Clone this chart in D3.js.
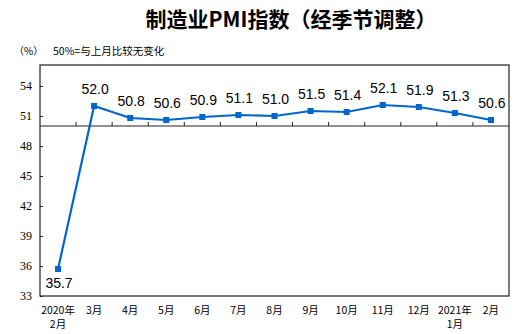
<!DOCTYPE html>
<html><head><meta charset="utf-8">
<script src="https://cdn.jsdelivr.net/npm/d3@7"></script>
<style>body{margin:0;background:#fff}svg{display:block}</style>
</head><body>
<svg id="c" width="519" height="334"></svg>
<script>
const categories = ["2020年\n2月","3月","4月","5月","6月","7月","8月","9月","10月","11月","12月","2021年\n1月","2月"];
const values = [35.7,52.0,50.8,50.6,50.9,51.1,51.0,51.5,51.4,52.1,51.9,51.3,50.6];
const yTicks = [33,36,39,42,45,48,51,54];
const title = "制造业PMI指数（经季节调整）";
const unitLabel = "（%）";
const noteLabel = "50%=与上月比较无变化";
const baseline = 50;

const svg = d3.select("#c");
const L = 40, R = 509, T = 66, B = 296;
const x = d3.scaleBand().domain(categories).range([L, R]);
const y = d3.scaleLinear().domain([33, 56]).range([B, T]);
const blue = "#0066cc";
const cjk = "'Noto Sans CJK SC', sans-serif";

svg.append("text").attr("x", 291).attr("y", 27).attr("text-anchor","middle")
  .attr("font-family", cjk).attr("font-weight","bold").attr("font-size",21).attr("fill","#000").text(title);
svg.append("text").attr("x", 14).attr("y", 55).attr("font-family", cjk).attr("font-size",10).attr("fill","#000").text(unitLabel);
svg.append("text").attr("x", 53).attr("y", 55).attr("font-family", cjk).attr("font-size",10.5).attr("fill","#000").text(noteLabel);

// frame
svg.append("rect").attr("x", L).attr("y", T - 1).attr("width", R - L).attr("height", B - T + 1)
  .attr("fill","none").attr("stroke","#222").attr("stroke-width",1.2);

// y axis (ticks inside)
const yAxis = d3.axisLeft(y).tickValues(yTicks).tickSize(-3).tickPadding(8).tickFormat(d3.format("d"));
const ya = svg.append("g").attr("transform", `translate(${L},0)`).call(yAxis);
ya.select(".domain").remove();
ya.selectAll("line").attr("stroke","#222");
ya.selectAll("text").attr("font-family","'Liberation Serif', serif").attr("font-size",12).attr("fill","#000");

// baseline at 50 with ticks at category boundaries
svg.append("line").attr("x1", L).attr("x2", R).attr("y1", y(baseline)).attr("y2", y(baseline))
  .attr("stroke","#222").attr("stroke-width",1.2);
const bounds = categories.slice(1).map(c => x(c));
svg.append("g").selectAll("line").data(bounds).join("line")
  .attr("x1", d => d).attr("x2", d => d).attr("y1", y(baseline)).attr("y2", y(baseline) - 4)
  .attr("stroke","#222").attr("stroke-width",1);

// x labels
const xl = svg.append("g").selectAll("text").data(categories).join("text")
  .attr("text-anchor","middle").attr("font-family", cjk).attr("font-size",10.5).attr("fill","#000")
  .attr("x", d => x(d) + x.bandwidth()/2).attr("y", 314);
xl.each(function(d){
  const parts = d.split("\n");
  const t = d3.select(this);
  parts.forEach((p,i) => t.append("tspan").attr("x", x(d) + x.bandwidth()/2).attr("dy", i ? 14 : 0).text(p));
});

// line
const cx = (d,i) => x(categories[i]) + x.bandwidth()/2;
svg.append("path").datum(values)
  .attr("d", d3.line().x(cx).y(d => y(d)))
  .attr("fill","none").attr("stroke", blue).attr("stroke-width",2.2);
svg.append("g").selectAll("rect").data(values).join("rect")
  .attr("x", (d,i) => cx(d,i) - 3).attr("y", d => y(d) - 3).attr("width",6).attr("height",6).attr("fill", blue);

// value labels
svg.append("g").selectAll("text").data(values).join("text")
  .attr("text-anchor","middle").attr("font-family","'Liberation Sans', Arial, sans-serif").attr("font-size",14).attr("fill","#000")
  .attr("x", (d,i) => cx(d,i) + 1)
  .attr("y", (d,i) => d < baseline ? y(d) + 19 : y(d) - 12)
  .text(d => d.toFixed(1));
</script>
</body></html>
